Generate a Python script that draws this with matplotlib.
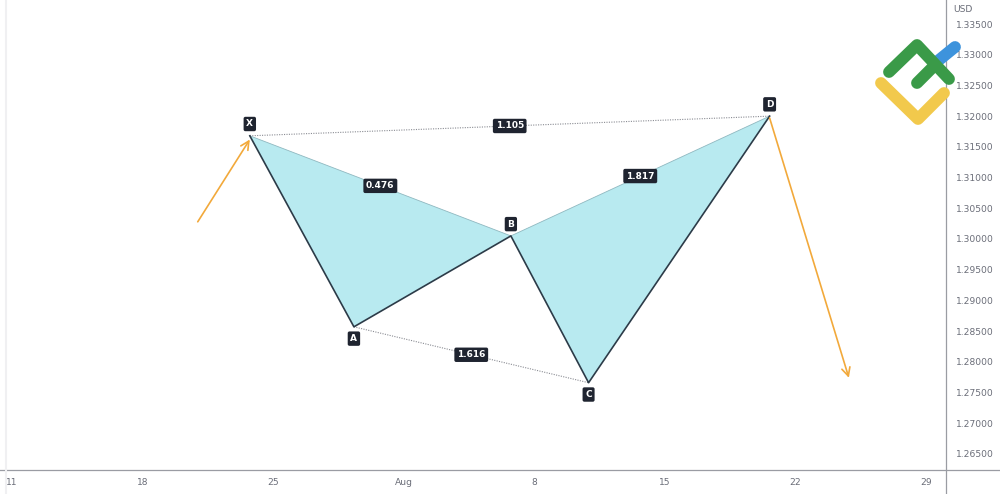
import matplotlib
matplotlib.use("Agg")
import matplotlib.pyplot as plt
import matplotlib.dates as mdates
from matplotlib.lines import Line2D
import numpy as np
import pandas as pd

# pattern points (XABCD)
names = ["X", "A", "B", "C", "D"]
dates = pd.to_datetime(["2021-07-23 18:00", "2021-07-29 08:00", "2021-08-06 18:00",
                        "2021-08-10 22:00", "2021-08-20 15:00"])
prices = [1.3168, 1.2857, 1.3005, 1.2766, 1.3200]
label_side = [1, -1, 1, -1, 1]   # 1 above, -1 below

# fib ratios between point pairs
ratio_pairs = [("X", "D"), ("X", "B"), ("B", "D"), ("A", "C")]
ratio_text = ["1.105", "0.476", "1.817", "1.616"]

# trend arrows (start -> end)
arrow_start_dates = pd.to_datetime(["2021-07-20 23:00", "2021-08-20 15:00"])
arrow_start_prices = [1.3028, 1.3197]
arrow_end_dates = pd.to_datetime(["2021-07-23 18:00", "2021-08-24 21:00"])
arrow_end_prices = [1.3162, 1.2774]

yticks = [1.265, 1.270, 1.275, 1.280, 1.285, 1.290, 1.295, 1.300,
          1.305, 1.310, 1.315, 1.320, 1.325, 1.330, 1.335]
xtick_dates = pd.to_datetime(["2021-07-11", "2021-07-18", "2021-07-25", "2021-08-01",
                              "2021-08-08", "2021-08-15", "2021-08-22", "2021-08-29"])
xtick_labels = ["11", "18", "25", "Aug", "8", "15", "22", "29"]

dark = "#1f2430"
fill_col = "#b8eaf0"
orange = "#f2a93b"
grey_txt = "#6a6d78"

fig = plt.figure(figsize=(10, 4.94), dpi=100)
ax = fig.add_axes([0.0, 24 / 494, 0.946, 470 / 494])

x = mdates.date2num(dates)
pt = dict(zip(names, zip(x, prices)))

# filled triangles XAB and BCD
for tri in (["X", "A", "B"], ["B", "C", "D"]):
    ax.fill([pt[n][0] for n in tri], [pt[n][1] for n in tri],
            color=fill_col, lw=0, zorder=1)
# faint edges X-B, B-D
for a, b in (("X", "B"), ("B", "D")):
    ax.plot([pt[a][0], pt[b][0]], [pt[a][1], pt[b][1]], color="#8fb8c0", lw=0.6, zorder=2)
# main zigzag
ax.plot(x, prices, color="#2c3b48", lw=1.2, zorder=3)
# dotted ratio lines
for a, b in (("X", "D"), ("A", "C")):
    ax.plot([pt[a][0], pt[b][0]], [pt[a][1], pt[b][1]], color="#8a8c93",
            lw=0.8, ls=(0, (1, 1.2)), zorder=2)

box = dict(boxstyle="round,pad=0.3,rounding_size=0.2", fc=dark, ec="none")
for (a, b), t in zip(ratio_pairs, ratio_text):
    mx = (pt[a][0] + pt[b][0]) / 2
    my = (pt[a][1] + pt[b][1]) / 2
    ax.text(mx, my, t, color="white", fontsize=6.5, fontweight="bold",
            ha="center", va="center", bbox=box, zorder=5)

for n, xv, yv, s in zip(names, x, prices, label_side):
    ax.annotate(n, (xv, yv), xytext=(0, 8.5 * s), textcoords="offset points",
                color="white", fontsize=6.5, fontweight="bold", ha="center",
                va="center", bbox=box, zorder=5)

for sd, sp, ed, ep in zip(arrow_start_dates, arrow_start_prices, arrow_end_dates, arrow_end_prices):
    ax.annotate("", xy=(mdates.date2num(ed), ep), xytext=(mdates.date2num(sd), sp),
                arrowprops=dict(arrowstyle="->,head_length=0.6,head_width=0.3",
                                color=orange, lw=1.2, shrinkA=0, shrinkB=0), zorder=4)

ax.set_xlim(mdates.date2num(pd.Timestamp("2021-07-10 08:30")),
            mdates.date2num(pd.Timestamp("2021-08-30 02:00")))
ax.set_ylim(1.26239, 1.33891)

ax.yaxis.tick_right()
ax.set_yticks(yticks)
ax.set_yticklabels(["%.5f" % v for v in yticks])
ax.set_xticks(mdates.date2num(xtick_dates))
ax.set_xticklabels(xtick_labels)
ax.tick_params(axis="both", length=0, labelsize=6.6, labelcolor=grey_txt)
ax.tick_params(axis="y", pad=7.5)
ax.tick_params(axis="x", pad=6)
for side in ("top", "left", "right", "bottom"):
    ax.spines[side].set_visible(False)

# axis frame lines
fig.add_artist(Line2D([0, 1], [24 / 494, 24 / 494], color="#9a9ca3", lw=0.9))
fig.add_artist(Line2D([0.946, 0.946], [0, 1], color="#9a9ca3", lw=0.9))
fig.add_artist(Line2D([0.006, 0.006], [0, 1], color="#f0f0f2", lw=1.5))
fig.text(0.953, 0.99, "USD", fontsize=6.6, color=grey_txt, va="top")

# logo
def logo_stroke(px, py, col):
    fig.add_artist(Line2D(np.array(px) / 1000, 1 - np.array(py) / 494, color=col,
                          lw=8.5, solid_capstyle="round", solid_joinstyle="round"))

logo_stroke([939, 955], [60, 47], "#3d93dc")
logo_stroke([881, 918, 944], [83, 119, 93], "#f2c94c")
logo_stroke([889, 917, 949], [72, 45, 79], "#3a9a48")
logo_stroke([917, 933], [83, 67], "#3a9a48")

fig.savefig("out.png", dpi=100)
